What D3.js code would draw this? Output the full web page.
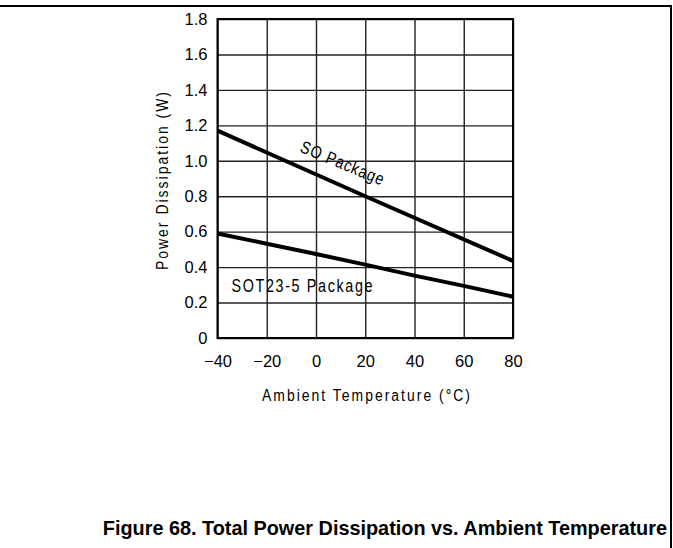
<!DOCTYPE html>
<html>
<head>
<meta charset="utf-8">
<script src="https://cdn.jsdelivr.net/npm/d3@7"></script>
<style>
  html, body { margin: 0; padding: 0; background: #fff; }
  svg { display: block; }
</style>
</head>
<body>
<script>
// Ambient temperature grid (°C) and the two derating curves (W)
const tempTicks = [-40, -20, 0, 20, 40, 60, 80];
const tempTickLabels = ["\u221240", "\u221220", "0", "20", "40", "60", "80"];
const powerTicks = [0, 0.2, 0.4, 0.6, 0.8, 1.0, 1.2, 1.4, 1.6, 1.8];
const powerTickLabels = ["0", "0.2", "0.4", "0.6", "0.8", "1.0", "1.2", "1.4", "1.6", "1.8"];

const soTemps = [-40, 20, 80];
const soPower = [1.17, 0.80, 0.435];
const sotTemps = [-40, -20, 0, 20, 40, 60, 80];
const sotPower = [0.59, 0.532, 0.474, 0.414, 0.352, 0.294, 0.233];

const seriesNames = ["SO Package", "SOT23-5 Package"];
const xTitle = "Ambient Temperature (\u00B0C)";
const yTitle = "Power Dissipation (W)";
const caption = "Figure 68. Total Power Dissipation vs. Ambient Temperature";

const W = 673, H = 548;
const plot = { left: 217.5, right: 513, top: 19, bottom: 338 };
const sans = "'Liberation Sans', Arial, sans-serif";

const svg = d3.select("body").append("svg")
  .attr("width", W).attr("height", H);
svg.append("rect").attr("width", W).attr("height", H).attr("fill", "#fff");

// page rules: top edge and right edge
svg.append("line").attr("x1", 0).attr("x2", 672).attr("y1", 6).attr("y2", 6)
  .attr("stroke", "#000").attr("stroke-width", 2);
svg.append("line").attr("x1", 671).attr("x2", 671).attr("y1", 5).attr("y2", H)
  .attr("stroke", "#000").attr("stroke-width", 2);

const x = d3.scaleLinear().domain([-40, 80]).range([plot.left, plot.right]);
const y = d3.scaleLinear().domain([0, 1.8]).range([plot.bottom, plot.top]);
const pw = plot.right - plot.left, ph = plot.bottom - plot.top;

// grid lines via axes with full-length ticks
const xGrid = svg.append("g")
  .attr("transform", `translate(0,${plot.bottom})`)
  .call(d3.axisBottom(x).tickValues(tempTicks)
    .tickSizeInner(-ph).tickSizeOuter(0)
    .tickPadding(20)
    .tickFormat((d, i) => tempTickLabels[i]));
xGrid.select(".domain").remove();
xGrid.selectAll(".tick line").attr("stroke", "#222").attr("stroke-width", 1.4);
xGrid.selectAll(".tick text")
  .attr("font-family", sans).attr("font-size", 16.5).attr("fill", "#000")
  .attr("dy", "0.55em");

const yGrid = svg.append("g")
  .attr("transform", `translate(${plot.left},0)`)
  .call(d3.axisLeft(y).tickValues(powerTicks)
    .tickSizeInner(-pw).tickSizeOuter(0)
    .tickPadding(10)
    .tickFormat((d, i) => powerTickLabels[i]));
yGrid.select(".domain").remove();
yGrid.selectAll(".tick line").attr("stroke", "#222").attr("stroke-width", 1.4);
yGrid.selectAll(".tick text")
  .attr("font-family", sans).attr("font-size", 16.5).attr("fill", "#000");

// plot frame
svg.append("rect")
  .attr("x", plot.left).attr("y", plot.top)
  .attr("width", pw).attr("height", ph)
  .attr("fill", "none").attr("stroke", "#000").attr("stroke-width", 2);

// derating curves
const line = d3.line().x(d => x(d[0])).y(d => y(d[1]));
svg.append("path")
  .datum(soTemps.map((t, i) => [t, soPower[i]]))
  .attr("d", line).attr("fill", "none")
  .attr("stroke", "#000").attr("stroke-width", 4);
svg.append("path")
  .datum(sotTemps.map((t, i) => [t, sotPower[i]]))
  .attr("d", line).attr("fill", "none")
  .attr("stroke", "#000").attr("stroke-width", 4);

// condensed, letter-spaced drafting lettering
const squeeze = 0.82;
function label(txt, transform, len, size) {
  return svg.append("text")
    .attr("transform", `${transform} scale(${squeeze},1)`)
    .attr("font-family", sans).attr("font-size", size).attr("fill", "#000")
    .attr("textLength", len / squeeze).attr("lengthAdjust", "spacing")
    .text(txt);
}

// curve labels
label(seriesNames[0], "translate(299,151.5) rotate(22.5)", 89, 17.5);
label(seriesNames[1], "translate(231.5,291.5)", 141, 17.5);

// axis titles
label(xTitle, "translate(262,401)", 208, 17);
label(yTitle, "translate(167.5,270) rotate(-90)", 178, 17);

// figure caption
svg.append("text")
  .attr("x", 667).attr("y", 535)
  .attr("text-anchor", "end")
  .attr("font-family", sans).attr("font-weight", "bold")
  .attr("font-size", 19.85).attr("fill", "#000")
  .text(caption);
</script>
</body>
</html>
